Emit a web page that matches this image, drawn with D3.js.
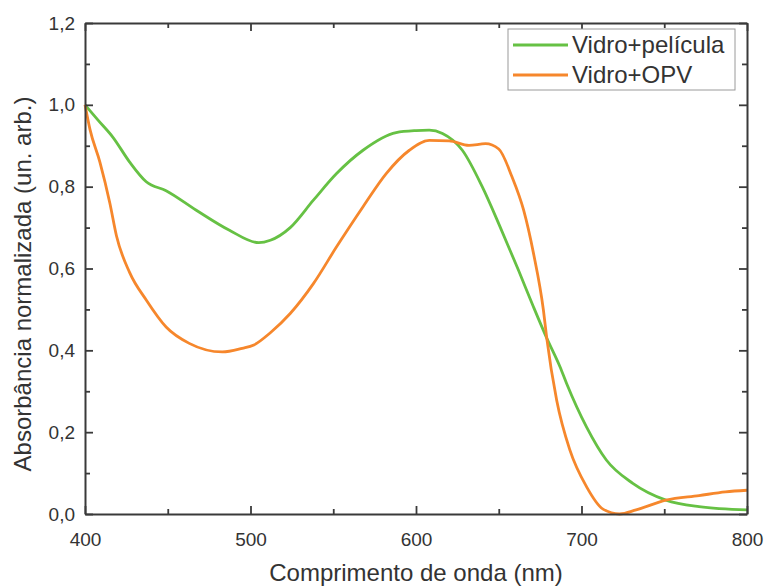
<!DOCTYPE html>
<html>
<head>
<meta charset="utf-8">
<script src="https://cdn.jsdelivr.net/npm/d3@7"></script>
<style>
  html, body { margin: 0; padding: 0; background: #fff; }
  svg { display: block; }
</style>
</head>
<body>
<svg id="chart" width="767" height="586"></svg>
<script>
// Data
const seriesNames = ["Vidro+película", "Vidro+OPV"];
const seriesColors = ["#66c144", "#f6872c"];

const peliculaNm = [400, 408, 417, 427, 437, 449, 467, 487, 505, 512, 524, 538, 552, 568, 588, 600, 608, 616, 628, 640, 651, 662, 671, 679, 687, 691, 703, 715, 731, 751, 771, 800];
const peliculaAbs = [1.0, 0.962, 0.92, 0.86, 0.812, 0.79, 0.743, 0.694, 0.663, 0.669, 0.70, 0.767, 0.832, 0.889, 0.932, 0.937, 0.938, 0.93, 0.889, 0.80, 0.70, 0.595, 0.506, 0.43, 0.36, 0.319, 0.213, 0.132, 0.075, 0.034, 0.018, 0.01];

const opvNm = [400, 403, 409, 415, 419, 427, 437, 449, 463, 483, 495, 502, 512, 524, 538, 552, 568, 582, 596, 608, 620, 632, 642, 650, 658, 665, 671, 677, 679, 685, 693, 703, 713, 723, 733, 751, 771, 787, 800];
const opvAbs = [1.0, 0.94, 0.86, 0.76, 0.68, 0.59, 0.523, 0.457, 0.417, 0.396, 0.405, 0.413, 0.443, 0.49, 0.563, 0.653, 0.751, 0.832, 0.889, 0.913, 0.912, 0.901, 0.905, 0.892, 0.824, 0.743, 0.637, 0.498, 0.43, 0.278, 0.156, 0.067, 0.012, 0.0, 0.01, 0.034, 0.045, 0.054, 0.058];

const xTicks = [400, 500, 600, 700, 800];
const yTicks = [0.0, 0.2, 0.4, 0.6, 0.8, 1.0, 1.2];
const xLabel = "Comprimento de onda (nm)";
const yLabel = "Absorbância normalizada (un. arb.)";

(function () {
const svg = d3.select("#chart");
const m = { left: 85, right: 767 - 747, top: 23, bottom: 586 - 514 };
const W = 767, H = 586;
const FONT = "Liberation Sans, Arial, sans-serif";

const x = d3.scaleLinear().domain([400, 800]).range([m.left, W - m.right]);
const y = d3.scaleLinear().domain([0, 1.2]).range([H - m.bottom, m.top]);

const axisColor = "#3a3a3a";
const fmt = d => d3.format(".1f")(d).replace(".", ",");

const xMinor = d3.range(450, 800, 100);
const yMinor = d3.range(0.1, 1.2, 0.2);

// Curves
const line = d3.line().curve(d3.curveMonotoneX);
const plot = svg.append("g");
const datasets = [
  peliculaNm.map((d, i) => [d, peliculaAbs[i]]),
  opvNm.map((d, i) => [d, opvAbs[i]])
];
datasets.forEach((ds, i) => {
  plot.append("path")
    .attr("d", line.x(d => x(d[0])).y(d => y(d[1]))(ds))
    .attr("fill", "none")
    .attr("stroke", seriesColors[i])
    .attr("stroke-width", 2.8)
    .attr("stroke-linejoin", "round");
});

function styleAxis(g) {
  g.select(".domain").attr("stroke", axisColor).attr("stroke-width", 2);
  g.selectAll(".tick line").attr("stroke", axisColor).attr("stroke-width", 1.8);
  g.selectAll(".tick text").attr("fill", "#333")
    .style("font-family", FONT).style("font-size", "19px");
}
function minor(g) {
  g.select(".domain").remove();
  g.selectAll("line").attr("stroke", axisColor).attr("stroke-width", 1.8);
}

const gBottom = svg.append("g").attr("transform", `translate(0,${H - m.bottom})`)
  .call(d3.axisBottom(x).tickValues(xTicks).tickSizeInner(-8).tickSizeOuter(0).tickPadding(19).tickFormat(d3.format("d")));
styleAxis(gBottom);
svg.append("g").attr("transform", `translate(0,${H - m.bottom})`)
  .call(d3.axisBottom(x).tickValues(xMinor).tickSizeInner(-5).tickSizeOuter(0).tickFormat(""))
  .call(minor);

const gTop = svg.append("g").attr("transform", `translate(0,${m.top})`)
  .call(d3.axisTop(x).tickValues(xTicks).tickSizeInner(-8).tickSizeOuter(0).tickFormat(""));
styleAxis(gTop);
svg.append("g").attr("transform", `translate(0,${m.top})`)
  .call(d3.axisTop(x).tickValues(xMinor).tickSizeInner(-5).tickSizeOuter(0).tickFormat(""))
  .call(minor);

const gLeft = svg.append("g").attr("transform", `translate(${m.left},0)`)
  .call(d3.axisLeft(y).tickValues(yTicks).tickSizeInner(-8).tickSizeOuter(0).tickPadding(10).tickFormat(fmt));
styleAxis(gLeft);
svg.append("g").attr("transform", `translate(${m.left},0)`)
  .call(d3.axisLeft(y).tickValues(yMinor).tickSizeInner(-5).tickSizeOuter(0).tickFormat(""))
  .call(minor);

const gRight = svg.append("g").attr("transform", `translate(${W - m.right},0)`)
  .call(d3.axisRight(y).tickValues(yTicks).tickSizeInner(-8).tickSizeOuter(0).tickFormat(""));
styleAxis(gRight);
svg.append("g").attr("transform", `translate(${W - m.right},0)`)
  .call(d3.axisRight(y).tickValues(yMinor).tickSizeInner(-5).tickSizeOuter(0).tickFormat(""))
  .call(minor);

// Axis titles
svg.append("text")
  .attr("x", 416).attr("y", 581)
  .attr("text-anchor", "middle").attr("fill", "#333")
  .style("font-family", FONT).style("font-size", "24px")
  .text(xLabel);
svg.append("text")
  .attr("transform", `translate(31,284) rotate(-90)`)
  .attr("text-anchor", "middle").attr("fill", "#333")
  .style("font-family", FONT).style("font-size", "24px")
  .text(yLabel);

// Legend
const lg = svg.append("g");
lg.append("rect").attr("x", 508).attr("y", 29).attr("width", 227).attr("height", 61)
  .attr("fill", "#fff").attr("stroke", "#9a9a9a").attr("stroke-width", 1);
seriesNames.forEach((name, i) => {
  const yy = 45 + i * 30;
  lg.append("line").attr("x1", 513).attr("x2", 568).attr("y1", yy).attr("y2", yy)
    .attr("stroke", seriesColors[i]).attr("stroke-width", 2.8);
  lg.append("text").attr("x", 572).attr("y", yy + 8)
    .attr("fill", "#333")
    .style("font-family", FONT).style("font-size", "24px")
    .text(name);
});
})();
</script>
</body>
</html>
